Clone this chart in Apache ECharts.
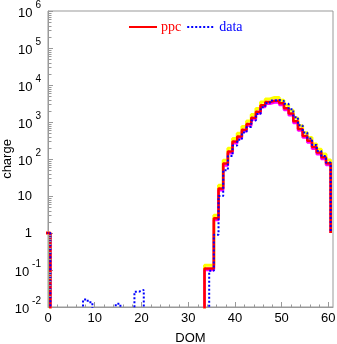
<!DOCTYPE html>
<html><head><meta charset="utf-8">
<script src="https://cdn.jsdelivr.net/npm/echarts@6/dist/echarts.min.js"></script>
<style>html,body{margin:0;padding:0;background:#fff}#c{width:337px;height:344px}</style>
</head><body><div id="c"></div>
<script>
// DOM bins 0..60 (bin centred on the integer)
const domBins = Array.from({length: 61}, (_, i) => i);
const ppc = [1,
  0,0,0,0,0,0,0,0,0,0,
  0,0,0,0,0,0,0,0,0,0,
  0,0,0,0,0,0,0,0,0,0,
  0,0,0,
  0.11,0.11,2.5,16,75,160,
  295,405,620,880,1300,1900,2850,3450,3750,3750,
  3200,2350,1700,1050,650,420,310,210,150,112,
  77];
const data = [1,
  0,0,0,0,0,0,0,
  0.016,0.0135,
  0,0,0,0,0,
  0.0122,
  0,0,0,
  0.026,0.029,
  0,0,0,0,0,0,0,0,0,0,0,0,0,0,
  0.095,0.9,10,50,120,
  230,330,520,730,1100,1650,2500,3250,3800,3950,
  3700,3100,2200,1350,820,520,360,240,165,120,
  80];
const ppcUpper = [1,
  0,0,0,0,0,0,0,0,0,0,
  0,0,0,0,0,0,0,0,0,0,
  0,0,0,0,0,0,0,0,0,0,
  0,0,0,
  0.135,0.135,3.0,19.5,92,195,
  360,495,755,1070,1590,2320,3480,4200,4580,4580,
  3900,2870,2070,1280,790,510,380,255,183,137,
  94];
const ppcLower = [1,
  0,0,0,0,0,0,0,0,0,0,
  0,0,0,0,0,0,0,0,0,0,
  0,0,0,0,0,0,0,0,0,0,
  0,0,0,
  0.1,0.1,2.25,14.4,67,144,
  265,365,560,790,1170,1710,2560,3100,3380,3380,
  2880,2110,1530,945,585,380,280,190,135,100,
  69];
const tailValue = 1;           // histogram drops to 1 after the last DOM
const xTickLabels = [0,10,20,30,40,50,60];
const yDecades = [-2,-1,0,1,2,3,4,5,6];
const FLOOR = 1e-6;            // empty bins go below the visible range

function stepData(vals) {
  const pts = domBins.map((d, i) => [d - 0.5, vals[i] > 0 ? vals[i] : FLOOR]);
  pts.push([domBins[domBins.length - 1] + 0.5, tailValue]);
  return pts;
}

const minorTicks = [];
for (let k = 0; k < yDecades.length - 1; k++) {
  for (let m = 2; m < 10; m++) minorTicks.push([0, m * Math.pow(10, yDecades[k]), 0]);
}
for (let x = 2; x <= 60; x += 2) if (x % 10) minorTicks.push([x, 0.01, 1]);

const AX = '#999';
const chart = echarts.init(document.getElementById('c'), null, {renderer: 'canvas'});
chart.setOption({
  animation: false,
  backgroundColor: '#fff',
  grid: {left: 48, right: 4, top: 11, bottom: 37, containLabel: false, outerBoundsMode: 'none',
         show: true, borderColor: AX, borderWidth: 1, backgroundColor: 'transparent'},
  legend: {
    data: [{name: 'ppc', textStyle: {color: '#ff0000'}}, {name: 'data', textStyle: {color: '#0000ff'}}],
    left: 123, top: 15, itemWidth: 28, itemHeight: 10, itemGap: 5,
    itemStyle: {opacity: 0},
    textStyle: {fontFamily: 'Liberation Serif', fontSize: 14, padding: [0, 0, 0, -1]}
  },
  xAxis: {
    type: 'value', min: 0, max: 61, interval: 10,
    name: 'DOM', nameLocation: 'middle', nameGap: 25, nameMoveOverlap: false,
    nameTextStyle: {fontFamily: 'Liberation Sans', fontSize: 13, color: '#000'},
    axisLine: {lineStyle: {color: AX}},
    axisTick: {inside: true, length: 5, lineStyle: {color: AX}},
    splitLine: {show: false},
    axisLabel: {
      showMaxLabel: false, margin: 5, color: '#000', fontFamily: 'Liberation Sans', fontSize: 13,
      formatter: v => xTickLabels.includes(v) ? String(v) : ''
    }
  },
  yAxis: {
    type: 'log', logBase: 10, min: 0.01, max: 1e6, splitNumber: 8,
    name: 'charge', nameLocation: 'middle', nameGap: 34, nameRotate: 90, nameMoveOverlap: false,
    nameTextStyle: {fontFamily: 'Liberation Sans', fontSize: 13, color: '#000'},
    axisLine: {show: true, lineStyle: {color: AX}},
    axisTick: {inside: true, length: 5, lineStyle: {color: AX}},
    splitLine: {show: false},
    axisLabel: {
      margin: 7, color: '#000', fontFamily: 'Liberation Sans', fontSize: 13,
      formatter: v => {
        const e = Math.round(Math.log10(v));
        if (e === 0) return '{p|1}';
        if (e === 1) return '{p|10}';
        return '{b|10}{s|' + e + '}';
      },
      rich: {
        p: {fontSize: 13, fontFamily: 'Liberation Sans', padding: [0, 9, 0, 0]},
        b: {fontSize: 13, fontFamily: 'Liberation Sans', verticalAlign: 'bottom', padding: [0, 0, 2, 0]},
        s: {fontSize: 10, fontFamily: 'Liberation Sans', verticalAlign: 'bottom', padding: [0, 0, 12, 3]}
      }
    }
  },
  series: [
    {name: 'ppc+', type: 'line', step: 'end', data: stepData(ppcUpper), showSymbol: false, symbol: 'none', clip: true, z: 1,
     lineStyle: {color: '#ffff00', width: 3}},
    {name: 'ppc-', type: 'line', step: 'end', data: stepData(ppcLower), showSymbol: false, symbol: 'none', clip: true, z: 2,
     lineStyle: {color: '#ff00ff', width: 2.5}},
    {name: 'ppc', type: 'line', step: 'end', data: stepData(ppc), showSymbol: false, symbol: 'none', clip: true, z: 3,
     color: '#ff0000', lineStyle: {color: '#ff0000', width: 2.5}},
    {name: 'data', type: 'line', step: 'end', data: stepData(data), showSymbol: false, symbol: 'none', clip: true, z: 4,
     color: '#0000ff', lineStyle: {color: '#0000ff', width: 2, type: [2, 2]}},
    {name: 'ticks', type: 'custom', data: minorTicks, encode: {x: 0, y: 1}, z: 5, silent: true,
     renderItem: (params, api) => {
       const p = api.coord([api.value(0), api.value(1)]);
       const x = Math.round(p[0]) + 0.5, y = Math.round(p[1]) + 0.5;
       const shape = api.value(2) === 0 ? {x1: x, y1: y, x2: x + 3, y2: y} : {x1: x, y1: y, x2: x, y2: y - 3};
       return {type: 'line', shape, style: {stroke: AX, lineWidth: 1}};
     }}
  ]
});
</script></body></html>
